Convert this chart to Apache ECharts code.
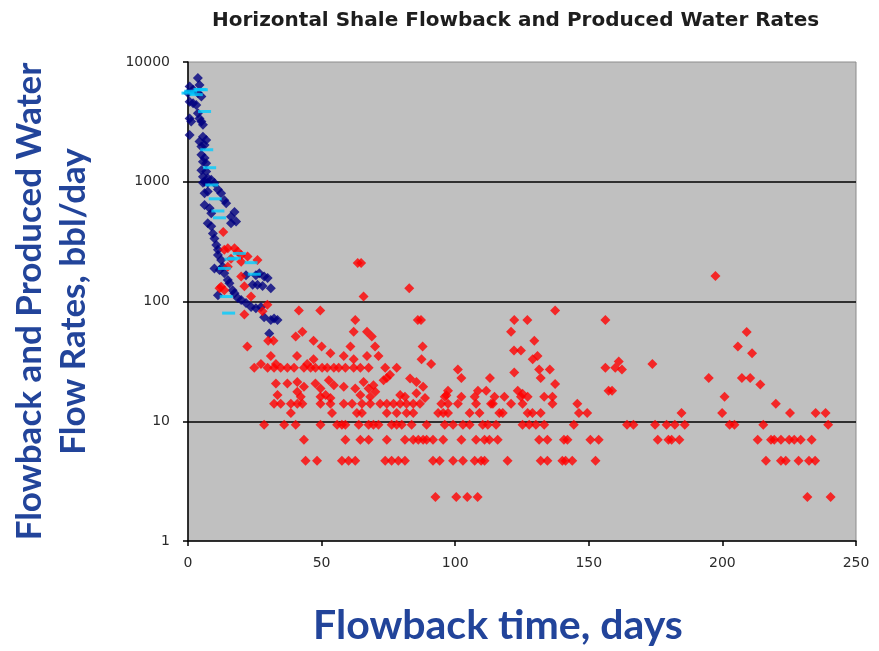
<!DOCTYPE html>
<html>
<head>
<meta charset="utf-8">
<title>Horizontal Shale Flowback and Produced Water Rates</title>
<script src="https://cdn.jsdelivr.net/npm/echarts@6/dist/echarts.min.js"></script>
<style>
  html, body { margin: 0; padding: 0; background: #ffffff; }
  #chart { width: 879px; height: 651px; }
</style>
</head>
<body>
<div id="chart"></div>
<script>
// Flowback rates, early high-rate well (navy diamonds): [day, bbl/day]
const flowbackNavy = [
  [3.7,7350],[4.3,6430],[0.6,6240],[1.9,5860],[0,5500],[3.7,5500],[5,5160],
  [0.6,4660],[1.9,4520],[3.1,4380],[3.7,3730],[4.3,3380],[5,3180],[0.6,3380],
  [1.2,3180],[5.6,2990],[0.6,2460],[5.6,2380],[6.8,2230],[6.2,2030],[4.3,2170],
  [5,1970],[5,1680],[6.2,1580],[5.6,1470],[6.8,1430],[5,1250],[6.8,1220],
  [5.6,1100],[7.4,1070],[8.7,1040],[9.9,975],[6.2,1000],
  [5.6,980],[7.4,980],[6.2,800],[7.4,830],[11.2,860],[12.4,800],[13.6,700],
  [14.3,660],[6.2,640],[8.1,600],[8.7,545],[17.4,560],[16.1,510],[18,465],
  [16.1,450],[7.4,450],[8.7,425],[9.3,370],[9.9,336],[10.6,296],[11.2,270],
  [11.2,245],[12.4,222],[9.9,189],[11.8,183],[13,195],[13.6,172],[14.9,151],
  [15.5,142],[11.2,113],[16.7,124],[17.4,117],[18.6,107],[19.9,103],[21.7,97],
  [23.6,90],[25.4,88],[27.3,90],[28.5,74],[31,70],[32.2,72],[33.5,70],[30.4,54],
  [21.7,166],[24.2,138],[26,138],[27.9,135],[31,129],[26.7,172],[28.5,162],
  [29.8,157],[25.4,166]
];

// Flowback rates, second well (cyan dashes): [day, bbl/day]
const flowbackCyan = [
  [0,5500],[1,5700],[4.5,5900],[5,5860],[3.1,5340],[6.2,3860],[7,1850],
  [8.1,1310],[8.9,940],[10.2,720],[11.2,570],[11.8,500],[19.2,252],[17.4,230],
  [16.1,226],[23.6,211],[13.6,189],[24.8,169],[14.3,110],[15.2,80]
];

// Produced water rates (red diamonds): [day, bbl/day]
const producedRed = [
  [13.2,380],[14.9,279],[17.4,279],[13.6,270],[18.6,261],[19.9,245],[22.3,237],
  [26,222],[16.1,228],[19.9,215],[14.9,195],[19.9,162],[12.4,133],[11.8,129],
  [13.6,124],[21.1,134],[23.6,110],[29.7,94],[21.1,78],[27.9,83],
  [41.5,84],[49.5,84],[63.5,210],[64.8,210],[65.7,110],[82.8,129],[62.6,70],
  [86,70],[87.2,70],
  [42.8,56],[40.3,51],[30,47],[32,47],[62,56],[67,56],[47,47],[50,42],[60.8,42],
  [68.8,51],[70,42],[87.8,42],[22.2,42],
  [40.8,35],[53.3,37],[58.3,35],[67,35],[71.3,35],[27.3,30],[31,35],[32.9,30],
  [44.6,30],[47,33],[62,33],[87.4,33],[91,30],
  [24.8,28],[29.8,28],[32.2,28],[34.7,28],[37.2,28],[39.7,28],[43.4,28],[45.9,28],
  [47.7,28],[50.2,28],[52.1,28],[54.6,28],[56.4,28],[58.9,28],[62,28],[64.5,28],
  [67.6,28],[73.8,28],[78.1,28],[74.4,23],
  [32.9,20.7],[37.2,20.7],[40.9,21.3],[43.4,19.4],[47.7,20.7],[49.6,18.8],
  [52.7,22],[54.6,20],[58.3,19.4],[62.6,18.8],[65.7,21.3],[67.6,18.8],[69.4,20],
  [73.2,22],[75.6,24.4],[83.1,22.8],[85.5,21.3],[88,19.4],
  [33.5,16.6],[40.9,17.6],[42.2,16],[49.6,16],[51.5,16.6],[53.3,15.6],[64.5,16.6],
  [68.2,16],[70.1,17.6],[79.4,16.6],[81.2,16],[85.5,17.1],[88.7,15.6],
  [32.2,14],[34.7,14],[38.5,14],[40.9,14],[42.8,14],[49.6,14],[53.3,14],[58.3,14],
  [61.4,14],[65.1,14],[68.2,14],[71.9,14],[74.4,14],[76.9,14],[79.4,14],[81.8,14],
  [84.3,14],[86.8,14],
  [38.5,11.7],[53.9,11.7],[63.2,11.7],[65.1,11.7],[74.4,11.7],[78.1,11.7],
  [81.8,11.7],[84.3,11.7],
  [28.5,9.33],[36,9.33],[40.3,9.33],[49.6,9.33],[55.8,9.33],[57.6,9.33],[58.9,9.33],
  [63.9,9.33],[67.6,9.33],[69.4,9.33],[71.3,9.33],[76.2,9.33],[78.1,9.33],[80,9.33],
  [83.7,9.33],[89.3,9.33],
  [43.4,7],[58.9,7],[64.5,7],[67.6,7],[74.4,7],[81.2,7],[84.3,7],[86.2,7],[88,7],
  [89.3,7],
  [44,4.67],[48.3,4.67],[57.6,4.67],[60.1,4.67],[62.6,4.67],[73.8,4.67],[76.2,4.67],
  [78.7,4.67],[81.2,4.67],[91.7,4.67],[94.2,4.67],
  [92.6,2.33],[100.4,2.33],[104.5,2.33],[108.4,2.33],
  [137.4,84],[156.2,70],[122.1,70],[127,70],[120.9,56],[129.6,47],[122,39],
  [124.6,39],[129,33],[130.8,35],[156.2,28],[159.9,28],[161.2,31.5],[162.4,27],
  [101,27],[102.3,23],[131.4,27],[132,23],[135.4,27],[137.4,20.5],[122.1,25.5],
  [113,23],[157.4,18],[158.7,18],[97.3,18],[96.7,16.5],[108.5,18],[111.6,18],
  [123.4,18],[125.2,17],
  [96.1,16],[102.3,16],[107.3,16],[114.7,16],[118.4,16],[124.6,16],[127.1,16],
  [133.3,16],[136.4,16],
  [94.8,14],[97.3,14],[101,14],[107.8,14],[113.4,14],[114.1,14],[120.9,14],
  [125.2,14],[136.4,14],[145.7,14],
  [93.6,11.7],[95.5,11.7],[97.3,11.7],[105.4,11.7],[109.1,11.7],[116.5,11.7],
  [117.8,11.7],[127.1,11.7],[128.9,11.7],[132,11.7],[146.3,11.7],[149.4,11.7],
  [96.1,9.33],[99.2,9.33],[102.9,9.33],[105.4,9.33],[110.3,9.33],[112.2,9.33],
  [115.3,9.33],[125.2,9.33],[127.7,9.33],[130.2,9.33],[133.3,9.33],[144.4,9.33],
  [164.3,9.33],
  [91.7,7],[95.5,7],[102.3,7],[107.8,7],[111,7],[112.8,7],[115.9,7],[131.4,7],
  [134.5,7],[140.7,7],[142,7],[150.6,7],[153.7,7],
  [99.2,4.67],[102.9,4.67],[107.3,4.67],[109.7,4.67],[111,4.67],[119.6,4.67],
  [132,4.67],[134.5,4.67],[140.1,4.67],[141.3,4.67],[143.8,4.67],[152.5,4.67],
  [197.4,163],[209.1,55.5],[205.8,42],[211.1,37],[173.8,30],[194.9,23],[207.3,23],
  [210.4,23],[214.2,20.3],[200.8,16],[220,14],
  [184.7,11.7],[199.9,11.7],[225.3,11.7],[234.9,11.7],[238.6,11.7],
  [166.7,9.33],[174.8,9.33],[179.1,9.33],[182.2,9.33],[185.9,9.33],[202.7,9.33],
  [204.5,9.33],[215.3,9.33],[239.6,9.33],
  [175.8,7],[179.8,7],[181,7],[183.9,7],[213.2,7],[218.2,7],[219.4,7],[221.9,7],
  [225,7],[226.9,7],[229.3,7],[233.4,7],
  [216.3,4.67],[221.9,4.67],[223.7,4.67],[228.5,4.67],[232.4,4.67],[234.7,4.67],
  [231.8,2.33],[240.5,2.33]
];

const titleText = 'Horizontal Shale Flowback and Produced Water Rates';
const xAxisTitle = 'Flowback time, days';
const yAxisTitle = 'Flowback and Produced Water\nFlow Rates, bbl/day';

const chart = echarts.init(document.getElementById('chart'), null, { renderer: 'canvas' });

const tickFont = { fontFamily: 'DejaVu Sans', fontSize: 14, color: '#2b2b2b' };
const blueColor = '#22449a';

chart.setOption({
  backgroundColor: '#ffffff',
  animation: false,
  title: {
    text: titleText,
    left: 207,
    top: 6,
    textStyle: { fontFamily: 'DejaVu Sans', fontWeight: 'bold', fontSize: 20, color: '#1e1e1e' }
  },
  grid: {
    left: 183, right: 23, top: 62, bottom: 110,
    show: true,
    backgroundColor: '#c0c0c0',
    borderColor: '#8c8c8c',
    borderWidth: 1
  },
  xAxis: {
    type: 'value',
    min: 0, max: 250, interval: 50,
    name: xAxisTitle,
    nameLocation: 'middle',
    nameGap: 64,
    nameTextStyle: {
      fontFamily: 'Lato', fontWeight: 'bold', fontSize: 41, color: blueColor,
      padding: [0, 48, 0, 0]
    },
    axisLine: { show: true, onZero: false, lineStyle: { color: '#000', width: 1.5 } },
    axisTick: { show: true, inside: false, length: 5, lineStyle: { color: '#000', width: 1.5 } },
    axisLabel: Object.assign({ margin: 15 }, tickFont),
    splitLine: { show: false }
  },
  yAxis: {
    type: 'log',
    logBase: 10,
    min: 1, max: 10000,
    name: yAxisTitle,
    nameLocation: 'middle',
    nameRotate: 90,
    nameGap: 92,
    nameTextStyle: {
      fontFamily: 'Lato', fontWeight: 'bold', fontSize: 35, color: blueColor,
      lineHeight: 44, align: 'center'
    },
    axisLine: { show: true, lineStyle: { color: '#000', width: 1.5 } },
    axisTick: { show: true, inside: false, length: 5, lineStyle: { color: '#000', width: 1.5 } },
    axisLabel: Object.assign({ margin: 18, formatter: (v) => String(Math.round(v)) }, tickFont),
    splitLine: { show: true, showMinLine: false, showMaxLine: false, lineStyle: { color: '#000', width: 1.5 } }
  },
  series: [
    {
      name: 'Flowback (navy)',
      type: 'scatter',
      data: flowbackNavy,
      symbol: 'diamond',
      symbolSize: 10,
      itemStyle: { color: '#000080' },
      z: 2
    },
    {
      name: 'Produced water',
      type: 'scatter',
      data: producedRed,
      symbol: 'diamond',
      symbolSize: 10,
      itemStyle: { color: '#ff0000' },
      z: 3
    },
    {
      name: 'Flowback (cyan)',
      type: 'scatter',
      data: flowbackCyan,
      symbol: 'rect',
      symbolSize: [13, 3],
      itemStyle: { color: '#00ccff' },
      z: 4
    }
  ]
});
</script>
</body>
</html>
